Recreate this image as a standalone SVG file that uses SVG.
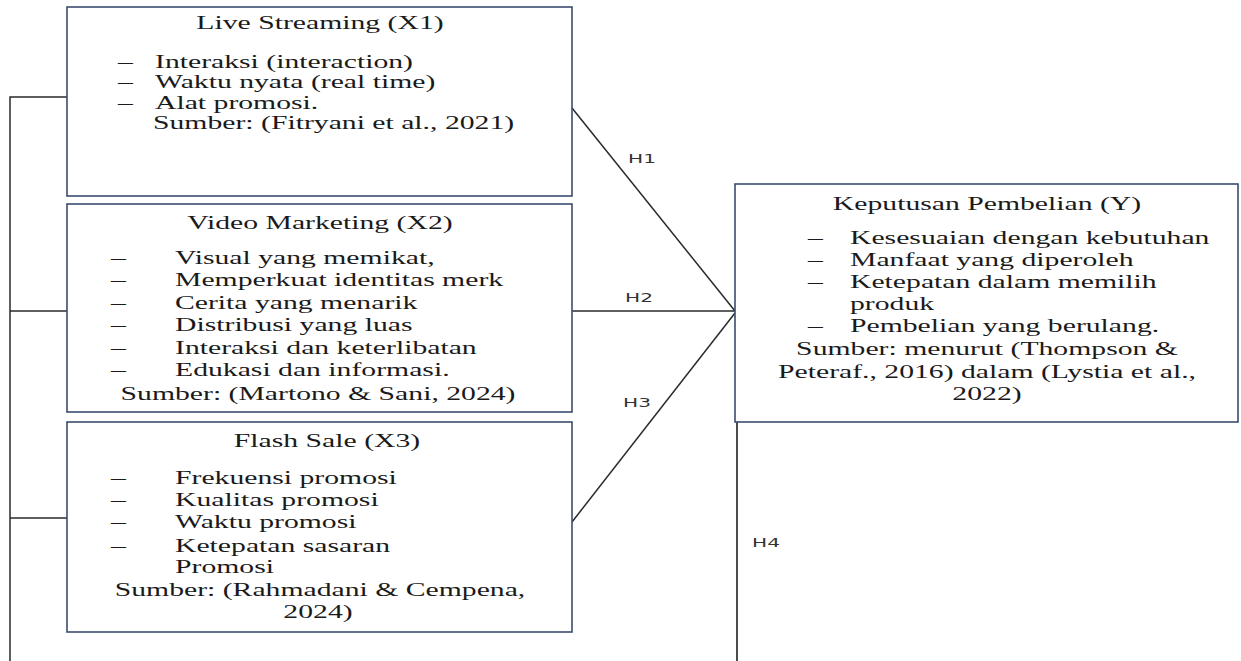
<svg xmlns="http://www.w3.org/2000/svg" width="1241" height="661" viewBox="0 0 1241 661">
<style>
.box{fill:#fff;stroke:#3a4e6e;stroke-width:1.6}
.t{font-family:"Liberation Serif","Times New Roman",serif;font-size:18px;fill:#1a1a1a}
.m{text-anchor:middle}
.c{fill:none;stroke:#2a2a2a;stroke-width:1.5}
.h{font-family:"DejaVu Sans",Verdana,sans-serif;font-size:13px;fill:#333}
</style>
<rect width="1241" height="661" fill="#fff"/>
<g id="connectors">
<polyline class="c" points="67,97 10,97 10,661"/>
<line class="c" x1="10" y1="311" x2="67" y2="311"/>
<line class="c" x1="10" y1="518" x2="67" y2="518"/>
<line class="c" x1="572" y1="108" x2="735" y2="311"/>
<line class="c" x1="572" y1="311" x2="735" y2="311"/>
<line class="c" x1="735" y1="313" x2="572" y2="522"/>
<line class="c" x1="737" y1="311" x2="737" y2="661" stroke-width="2.2" style="stroke:#111"/>
<text class="h" transform="matrix(1.55,0,0,1,628,163)">H1</text>
<text class="h" transform="matrix(1.55,0,0,1,625,302)">H2</text>
<text class="h" transform="matrix(1.55,0,0,1,623,407)">H3</text>
<text class="h" transform="matrix(1.55,0,0,1,752,547)">H4</text>
</g>
<g id="x1">
<rect class="box" x="67" y="7" width="505" height="189"/>
<text class="t m" transform="matrix(1.65,0,0,1,320,29)">Live Streaming (X1)</text>
<text class="t" transform="matrix(1.65,0,0,1,118,68)">–</text>
<text class="t" transform="matrix(1.65,0,0,1,118,88)">–</text>
<text class="t" transform="matrix(1.65,0,0,1,118,109)">–</text>
<text class="t" transform="matrix(1.65,0,0,1,155,68)">Interaksi (interaction)</text>
<text class="t" transform="matrix(1.65,0,0,1,155,88)">Waktu nyata (real time)</text>
<text class="t" transform="matrix(1.65,0,0,1,155,109)">Alat promosi.</text>
<text class="t" transform="matrix(1.65,0,0,1,153,129)">Sumber: (Fitryani et al., 2021)</text>
</g>
<g id="x2">
<rect class="box" x="67" y="204" width="505" height="208"/>
<text class="t m" transform="matrix(1.65,0,0,1,320,229)">Video Marketing (X2)</text>
<text class="t" transform="matrix(1.65,0,0,1,111,263.5)">–</text>
<text class="t" transform="matrix(1.65,0,0,1,111,286)">–</text>
<text class="t" transform="matrix(1.65,0,0,1,111,308.5)">–</text>
<text class="t" transform="matrix(1.65,0,0,1,111,331)">–</text>
<text class="t" transform="matrix(1.65,0,0,1,111,353.5)">–</text>
<text class="t" transform="matrix(1.65,0,0,1,111,376)">–</text>
<text class="t" transform="matrix(1.65,0,0,1,175,263.5)">Visual yang memikat,</text>
<text class="t" transform="matrix(1.65,0,0,1,175,286)">Memperkuat identitas merk</text>
<text class="t" transform="matrix(1.65,0,0,1,175,308.5)">Cerita yang menarik</text>
<text class="t" transform="matrix(1.65,0,0,1,175,331)">Distribusi yang luas</text>
<text class="t" transform="matrix(1.65,0,0,1,175,353.5)">Interaksi dan keterlibatan</text>
<text class="t" transform="matrix(1.65,0,0,1,175,376)">Edukasi dan informasi.</text>
<text class="t m" transform="matrix(1.65,0,0,1,318,399.5)">Sumber: (Martono &amp; Sani, 2024)</text>
</g>
<g id="x3">
<rect class="box" x="67" y="422" width="505" height="210"/>
<text class="t m" transform="matrix(1.65,0,0,1,327,447)">Flash Sale (X3)</text>
<text class="t" transform="matrix(1.65,0,0,1,111,484)">–</text>
<text class="t" transform="matrix(1.65,0,0,1,111,506)">–</text>
<text class="t" transform="matrix(1.65,0,0,1,111,528)">–</text>
<text class="t" transform="matrix(1.65,0,0,1,111,552)">–</text>
<text class="t" transform="matrix(1.65,0,0,1,175,484)">Frekuensi promosi</text>
<text class="t" transform="matrix(1.65,0,0,1,175,506)">Kualitas promosi</text>
<text class="t" transform="matrix(1.65,0,0,1,175,528)">Waktu promosi</text>
<text class="t" transform="matrix(1.65,0,0,1,175,552)">Ketepatan sasaran</text>
<text class="t" transform="matrix(1.65,0,0,1,175,573)">Promosi</text>
<text class="t m" transform="matrix(1.65,0,0,1,320,596)">Sumber: (Rahmadani &amp; Cempena,</text>
<text class="t m" transform="matrix(1.65,0,0,1,318,618)">2024)</text>
</g>
<g id="y">
<rect class="box" x="735" y="184" width="503" height="238"/>
<text class="t m" transform="matrix(1.65,0,0,1,987,210)">Keputusan Pembelian (Y)</text>
<text class="t" transform="matrix(1.65,0,0,1,808,244)">–</text>
<text class="t" transform="matrix(1.65,0,0,1,808,266)">–</text>
<text class="t" transform="matrix(1.65,0,0,1,808,288)">–</text>
<text class="t" transform="matrix(1.65,0,0,1,808,332)">–</text>
<text class="t" transform="matrix(1.65,0,0,1,850,244)">Kesesuaian dengan kebutuhan</text>
<text class="t" transform="matrix(1.65,0,0,1,850,266)">Manfaat yang diperoleh</text>
<text class="t" transform="matrix(1.65,0,0,1,850,288)">Ketepatan dalam memilih</text>
<text class="t" transform="matrix(1.65,0,0,1,850,310)">produk</text>
<text class="t" transform="matrix(1.65,0,0,1,850,332)">Pembelian yang berulang.</text>
<text class="t m" transform="matrix(1.65,0,0,1,987,355)">Sumber: menurut (Thompson &amp;</text>
<text class="t m" transform="matrix(1.65,0,0,1,987,378)">Peteraf., 2016) dalam (Lystia et al.,</text>
<text class="t m" transform="matrix(1.65,0,0,1,987,400)">2022)</text>
</g>
</svg>
